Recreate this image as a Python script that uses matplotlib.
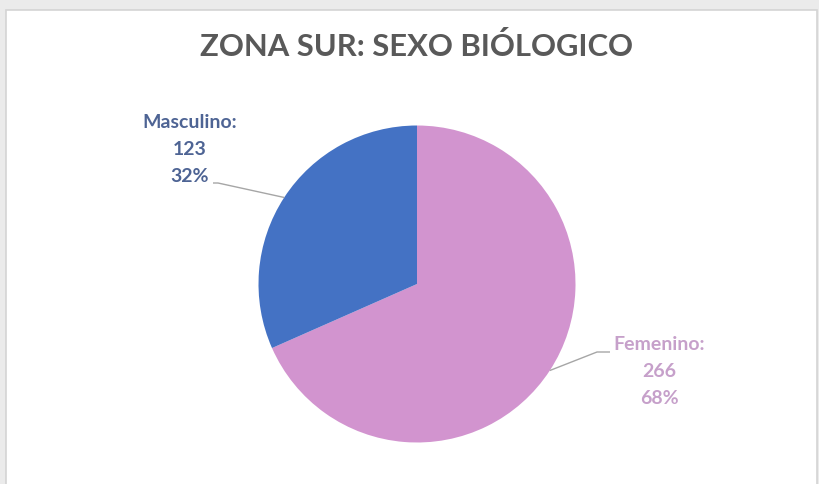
import numpy as np
import matplotlib.pyplot as plt
from matplotlib.patches import Rectangle

# data
categories = ['Femenino', 'Masculino']
counts = [266, 123]
percents = ['68%', '32%']
colors = ['#D294CF', '#4472C4']
label_colors = ['#C6A0CA', '#4E6494']
title = 'ZONA SUR: SEXO BIÓLOGICO'

plt.rcParams['font.family'] = ['Lato', 'DejaVu Sans']

W, H = 819, 484
fig = plt.figure(figsize=(W / 100, H / 100), dpi=100, facecolor='#EBEBEB')
ax = fig.add_axes([0, 0, 1, 1])

# chart area
ax.add_patch(Rectangle((5.5, -5), 811, H - 10 + 5.5, facecolor='white',
                       edgecolor='#D4D4D4', lw=1.2, zorder=0))

cx, cy, r = 417, 200, 158.5
wedges, _ = ax.pie(counts, colors=colors, startangle=90, counterclock=False,
                   center=(cx, cy), radius=r, frame=True,
                   wedgeprops=dict(linewidth=0))
ax.set_xlim(0, W)
ax.set_ylim(0, H)
ax.set_aspect('equal')
ax.axis('off')

ax.text(416, H - 47, title, ha='center', va='center', fontsize=22.3,
        color='#595959', fontweight='bold')

# leader lines + labels (label block centre, first line y, elbow)
label_pos = {'Femenino': (659, H - 345, (597, H - 352), 610),
             'Masculino': (190, H - 123, (218, H - 183), 213)}
for w, cat, n, p, lc in zip(wedges, categories, counts, percents, label_colors):
    ang = np.deg2rad((w.theta1 + w.theta2) / 2)
    x0, y0 = cx + r * np.cos(ang), cy + r * np.sin(ang)
    tx, ty, (ex, ey), xend = label_pos[cat]
    ax.plot([x0, ex, xend], [y0, ey, ey], color='#A6A6A6', lw=1,
            solid_capstyle='butt')
    for i, s in enumerate([f'{cat}:', str(n), p]):
        ax.text(tx, ty - i * 26.5, s, ha='center', va='center', fontsize=14,
                color=lc, fontweight='bold')

fig.savefig('out.png', dpi=100, facecolor=fig.get_facecolor())
